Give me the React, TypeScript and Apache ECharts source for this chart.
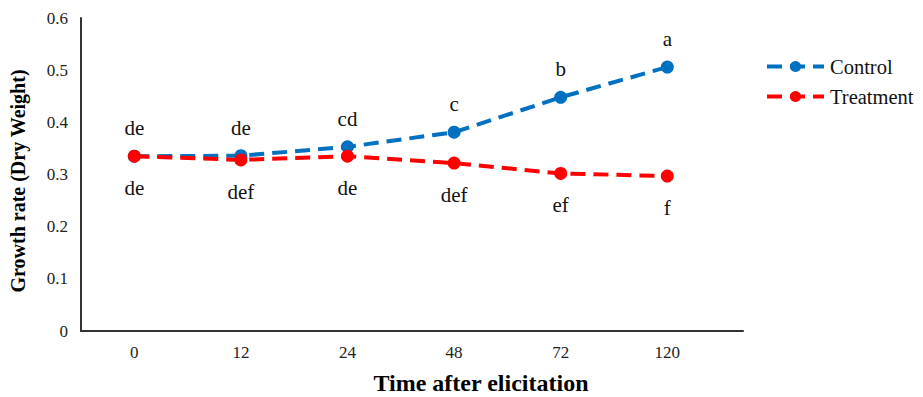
import React, { useEffect, useRef } from "react";
import * as echarts from "echarts";

const timeLabels = ["0", "12", "24", "48", "72", "120"];
const controlValues = [0.335, 0.336, 0.353, 0.381, 0.448, 0.506];
const treatmentValues = [0.335, 0.328, 0.335, 0.322, 0.302, 0.297];
const controlLetters = ["de", "de", "cd", "c", "b", "a"];
const treatmentLetters = ["de", "def", "de", "def", "ef", "f"];
const yTicks = [0, 0.1, 0.2, 0.3, 0.4, 0.5, 0.6];

const FONT = "Liberation Serif";

export default function App() {
  const ref = useRef<HTMLDivElement>(null);
  useEffect(() => {
    if (!ref.current) return;
    const chart = echarts.init(ref.current, undefined, { renderer: "svg" });
    const mk = (vals: number[], letters: string[]) =>
      vals.map((v, i) => ({ value: [i, v], label: { formatter: letters[i] } }));
    chart.setOption({
      animation: false,
      backgroundColor: "#ffffff",
      textStyle: { fontFamily: FONT },
      grid: { left: 81, top: 18, width: 662, height: 313, containLabel: false },
      xAxis: {
        type: "value",
        min: -0.5,
        max: 5.71,
        interval: 0.5,
        splitLine: { show: false },
        axisTick: { show: false },
        axisLine: { show: true, onZero: false, lineStyle: { color: "#333", width: 2 } },
        axisLabel: {
          margin: 13,
          color: "#222",
          fontFamily: FONT,
          fontSize: 17,
          showMaxLabel: false,
          formatter: (v: number) => (Number.isInteger(v) && v >= 0 && v < timeLabels.length ? timeLabels[v] : ""),
        },
      },
      yAxis: {
        type: "value",
        min: yTicks[0],
        max: yTicks[yTicks.length - 1],
        interval: 0.1,
        splitLine: { show: false },
        axisTick: { show: false },
        axisLine: { show: true, onZero: false, lineStyle: { color: "#333", width: 2 } },
        axisLabel: {
          margin: 13,
          color: "#222",
          fontFamily: FONT,
          fontSize: 17,
          formatter: (v: number) => String(Math.round(v * 10) / 10),
        },
      },
      legend: {
        orient: "vertical",
        left: 760,
        top: 51,
        itemWidth: 57,
        itemHeight: 14,
        itemGap: 9,
        lineStyle: { width: 4 },
        textStyle: { fontFamily: FONT, fontSize: 20.5, color: "#111", padding: [0, 0, 0, 1] },
        data: ["Control", "Treatment"],
      },
      graphic: [
        {
          type: "text",
          x: 481,
          y: 383,
          style: {
            text: "Time after elicitation",
            fontFamily: FONT,
            fontWeight: "bold",
            fontSize: 24,
            fill: "#000",
            align: "center",
            verticalAlign: "middle",
          },
        },
        {
          type: "text",
          x: 18,
          y: 181,
          rotation: Math.PI / 2,
          style: {
            text: "Growth rate (Dry Weight)",
            fontFamily: FONT,
            fontWeight: "bold",
            fontSize: 20,
            fill: "#000",
            align: "center",
            verticalAlign: "middle",
          },
        },
      ],
      series: [
        {
          name: "Control",
          type: "line",
          data: mk(controlValues, controlLetters),
          symbol: "circle",
          symbolSize: 13,
          itemStyle: { color: "#0070C0" },
          lineStyle: { color: "#0070C0", width: 4, type: [15, 8] },
          label: {
            show: true,
            position: "top",
            distance: 11,
            color: "#111",
            fontFamily: FONT,
            fontSize: 21,
          },
          z: 3,
        },
        {
          name: "Treatment",
          type: "line",
          data: mk(treatmentValues, treatmentLetters),
          symbol: "circle",
          symbolSize: 13,
          itemStyle: { color: "#FF0000" },
          lineStyle: { color: "#FF0000", width: 4, type: [15, 8] },
          label: {
            show: true,
            position: "bottom",
            distance: 15,
            color: "#111",
            fontFamily: FONT,
            fontSize: 21,
          },
          z: 4,
        },
      ],
    });
    return () => chart.dispose();
  }, []);
  return <div ref={ref} style={{ width: 923, height: 397, position: "absolute", left: 0, top: 0 }} />;
}
